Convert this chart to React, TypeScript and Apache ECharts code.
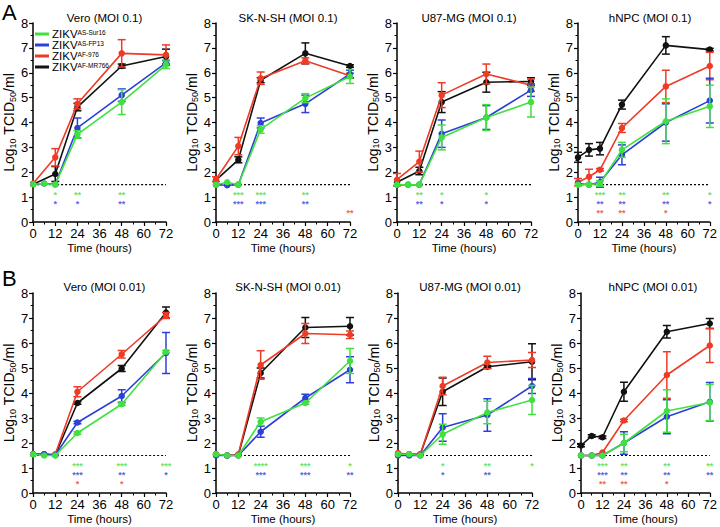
import React, { useEffect, useRef } from 'react';
import * as echarts from 'echarts';

const HOURS = [0, 6, 12, 24, 48, 72];
const STRAINS = ['AS-Sur16', 'AS-FP13', 'AF-976', 'AF-MR766'];
const COLORS = ['#3fe03f', '#2c40d8', '#ee3b25', '#111111'];
const DETECTION_LIMIT = 1.5;
const STAR_TOP = 1.27;

const TITLES = [
  'Vero (MOI 0.1)', 'SK-N-SH (MOI 0.1)', 'U87-MG (MOI 0.1)', 'hNPC (MOI 0.1)',
  'Vero (MOI 0.01)', 'SK-N-SH (MOI 0.01)', 'U87-MG (MOI 0.01)', 'hNPC (MOI 0.01)',
];

// ---- A: MOI 0.1 ----
const veroA_sur16 = [1.52, 1.55, 1.5, 3.52, 4.82, 6.32];
const veroA_sur16_sd = [0, 0, 0, 0.15, 0.5, 0.15];
const veroA_fp13 = [1.52, 1.55, 1.52, 3.78, 5.1, 6.4];
const veroA_fp13_sd = [0, 0, 0, 0.4, 0.25, 0.1];
const veroA_976 = [1.55, null, 2.6, 4.75, 6.78, 6.72];
const veroA_976_sd = [0, 0, 0.35, 0.2, 0.55, 0.4];
const veroA_mr766 = [1.52, null, 1.93, 4.62, 6.27, 6.65];
const veroA_mr766_sd = [0, 0, 0.3, 0.15, 0.08, 0.3];

const sknA_sur16 = [1.5, 1.6, 1.5, 3.72, 4.98, 5.85];
const sknA_sur16_sd = [0, 0, 0, 0.15, 0.18, 0.28];
const sknA_fp13 = [1.5, 1.48, 1.5, 3.98, 4.75, 5.95];
const sknA_fp13_sd = [0, 0, 0, 0.2, 0.35, 0.15];
const sknA_976 = [1.72, null, 3.05, 5.78, 6.48, 5.88];
const sknA_976_sd = [0.1, 0, 0.35, 0.25, 0.12, 0.1];
const sknA_mr766 = [1.68, null, 2.5, 5.7, 6.78, 6.27];
const sknA_mr766_sd = [0, 0, 0.12, 0.1, 0.42, 0.05];

const u87A_sur16 = [1.5, 1.5, 1.5, 3.4, 4.2, 4.82];
const u87A_sur16_sd = [0, 0, 0, 0.5, 0.52, 0.6];
const u87A_fp13 = [1.5, 1.5, 1.5, 3.55, 4.2, 5.3];
const u87A_fp13_sd = [0, 0, 0, 0.55, 0.48, 0.25];
const u87A_976 = [1.7, null, 2.43, 5.1, 5.95, 5.5];
const u87A_976_sd = [0.25, 0, 0.42, 0.5, 0.4, 0.25];
const u87A_mr766 = [1.6, null, 2.05, 4.82, 5.62, 5.65];
const u87A_mr766_sd = [0, 0, 0.15, 0.42, 0.4, 0.15];

const npcA_sur16 = [1.5, 1.5, 1.55, 2.9, 4.05, 4.65];
const npcA_sur16_sd = [0, 0, 0.1, 0.3, 0.9, 0.85];
const npcA_fp13 = [1.55, 1.5, 1.6, 2.7, 4.0, 4.88];
const npcA_fp13_sd = [0, 0, 0.2, 0.4, 0.75, 0.9];
const npcA_976 = [1.6, 1.82, 2.1, 3.78, 5.45, 6.27];
const npcA_976_sd = [0.15, 0.3, 0.05, 0.18, 0.65, 0.55];
const npcA_mr766 = [2.6, 2.9, 2.95, 4.72, 7.1, 6.93];
const npcA_mr766_sd = [0.2, 0.25, 0.25, 0.18, 0.35, 0.05];

// ---- B: MOI 0.01 ----
const veroB_sur16 = [1.55, 1.5, 1.5, 2.4, 3.55, 5.65];
const veroB_sur16_sd = [0, 0, 0, 0.05, 0.05, 0.05];
const veroB_fp13 = [1.55, 1.55, 1.52, 2.82, 3.88, 5.6];
const veroB_fp13_sd = [0, 0, 0, 0.05, 0.25, 0.82];
const veroB_976 = [1.55, 1.55, 1.55, 4.05, 5.55, 7.1];
const veroB_976_sd = [0, 0, 0, 0.2, 0.15, 0.12];
const veroB_mr766 = [1.55, 1.55, 1.52, 3.6, 4.98, 7.22];
const veroB_mr766_sd = [0, 0, 0, 0.05, 0.12, 0.22];

const sknB_sur16 = [1.55, 1.5, 1.5, 2.85, 3.6, 5.28];
const sknB_sur16_sd = [0, 0, 0, 0.15, 0.05, 0.5];
const sknB_fp13 = [1.5, 1.5, 1.5, 2.45, 3.8, 4.93];
const sknB_fp13_sd = [0, 0, 0, 0.22, 0.15, 0.52];
const sknB_976 = [1.55, 1.5, 1.55, 5.12, 6.38, 6.33];
const sknB_976_sd = [0, 0, 0, 0.57, 0.4, 0.15];
const sknB_mr766 = [1.55, 1.5, 1.52, 4.8, 6.62, 6.67];
const sknB_mr766_sd = [0, 0, 0, 0.2, 0.4, 0.35];

const u87B_sur16 = [1.55, 1.55, 1.5, 2.35, 3.22, 3.72];
const u87B_sur16_sd = [0, 0, 0, 0.4, 0.45, 0.58];
const u87B_fp13 = [1.5, 1.5, 1.5, 2.62, 3.12, 4.28];
const u87B_fp13_sd = [0, 0, 0, 0.55, 0.65, 0.3];
const u87B_976 = [1.6, 1.55, 1.55, 4.28, 5.22, 5.32];
const u87B_976_sd = [0, 0, 0, 0.35, 0.25, 0.3];
const u87B_mr766 = [1.55, 1.55, 1.55, 4.05, 5.05, 5.25];
const u87B_mr766_sd = [0, 0, 0, 0.55, 0.05, 0.72];

const npcB_sur16 = [1.5, 1.5, 1.5, 2.0, 3.28, 3.62];
const npcB_sur16_sd = [0, 0, 0, 0.35, 0.85, 0.72];
const npcB_fp13 = [1.5, 1.5, 1.5, 2.0, 3.05, 3.65];
const npcB_fp13_sd = [0, 0, 0, 0.45, 0.68, 0.77];
const npcB_976 = [1.5, 1.5, 1.62, 2.9, 4.72, 5.9];
const npcB_976_sd = [0, 0, 0, 0.05, 0.93, 0.68];
const npcB_mr766 = [1.9, 2.28, 2.23, 4.05, 6.45, 6.78];
const npcB_mr766_sd = [0.05, 0.05, 0.05, 0.38, 0.25, 0.2];

// significance marks: [hour, vs AS-Sur16 (green), vs AS-FP13 (blue), vs AF-976 (red)]
const veroA_stars = [[12, '*', '*', ''], [24, '**', '*', ''], [48, '**', '**', '']];
const sknA_stars = [[12, '***', '***', ''], [24, '***', '***', ''], [48, '**', '**', ''], [72, '', '', '**']];
const u87A_stars = [[12, '**', '**', ''], [24, '*', '*', ''], [48, '*', '*', '']];
const npcA_stars = [[12, '***', '**', '**'], [24, '**', '**', '**'], [48, '**', '**', '*'], [72, '*', '*', '']];
const veroB_stars = [[24, '***', '***', '*'], [48, '***', '**', '*'], [72, '***', '*', '']];
const sknB_stars = [[24, '****', '***', ''], [48, '***', '***', ''], [72, '*', '**', '']];
const u87B_stars = [[24, '*', '*', ''], [48, '**', '**', ''], [72, '*', '', '']];
const npcB_stars = [[12, '***', '***', '**'], [24, '**', '**', '**'], [48, '**', '**', '*'], [72, '**', '**', '']];

const PANELS = [
  { means: [veroA_sur16, veroA_fp13, veroA_976, veroA_mr766], sds: [veroA_sur16_sd, veroA_fp13_sd, veroA_976_sd, veroA_mr766_sd], stars: veroA_stars },
  { means: [sknA_sur16, sknA_fp13, sknA_976, sknA_mr766], sds: [sknA_sur16_sd, sknA_fp13_sd, sknA_976_sd, sknA_mr766_sd], stars: sknA_stars },
  { means: [u87A_sur16, u87A_fp13, u87A_976, u87A_mr766], sds: [u87A_sur16_sd, u87A_fp13_sd, u87A_976_sd, u87A_mr766_sd], stars: u87A_stars },
  { means: [npcA_sur16, npcA_fp13, npcA_976, npcA_mr766], sds: [npcA_sur16_sd, npcA_fp13_sd, npcA_976_sd, npcA_mr766_sd], stars: npcA_stars },
  { means: [veroB_sur16, veroB_fp13, veroB_976, veroB_mr766], sds: [veroB_sur16_sd, veroB_fp13_sd, veroB_976_sd, veroB_mr766_sd], stars: veroB_stars },
  { means: [sknB_sur16, sknB_fp13, sknB_976, sknB_mr766], sds: [sknB_sur16_sd, sknB_fp13_sd, sknB_976_sd, sknB_mr766_sd], stars: sknB_stars },
  { means: [u87B_sur16, u87B_fp13, u87B_976, u87B_mr766], sds: [u87B_sur16_sd, u87B_fp13_sd, u87B_976_sd, u87B_mr766_sd], stars: u87B_stars },
  { means: [npcB_sur16, npcB_fp13, npcB_976, npcB_mr766], sds: [npcB_sur16_sd, npcB_fp13_sd, npcB_976_sd, npcB_mr766_sd], stars: npcB_stars },
];

const GRIDS = [
  { left: 33, top: 23, width: 133, height: 199 },
  { left: 216, top: 23, width: 134, height: 199 },
  { left: 397, top: 23, width: 134, height: 199 },
  { left: 578, top: 23, width: 134, height: 199 },
  { left: 33, top: 293, width: 133, height: 200 },
  { left: 216, top: 293, width: 134, height: 200 },
  { left: 398, top: 293, width: 134, height: 200 },
  { left: 581, top: 293, width: 134, height: 200 },
];

const LEGEND_TOPS = [28, 39, 50, 61];

const FONT = '"Liberation Sans", Arial, Helvetica, sans-serif';

function buildOption() {
  const series: any[] = [];
  const xAxis: any[] = [];
  const yAxis: any[] = [];
  const title: any[] = [];

  GRIDS.forEach((g, i) => {
    xAxis.push({
      type: 'value', gridIndex: i, min: 0, max: 72, interval: 12,
      axisLine: { lineStyle: { color: '#000', width: 1.5 } },
      axisTick: { length: 4, lineStyle: { color: '#000', width: 1.2 } },
      minorTick: { show: true, splitNumber: 2, length: 2.5, lineStyle: { color: '#000', width: 1 } },
      splitLine: { show: false },
      axisLabel: { color: '#000', fontSize: 13, fontFamily: FONT, margin: 5 },
      name: 'Time (hours)', nameLocation: 'middle', nameGap: 20,
      nameTextStyle: { color: '#000', fontSize: 11.5, fontFamily: FONT },
    });
    yAxis.push({
      type: 'value', gridIndex: i, min: 0, max: 8, interval: 1,
      axisLine: { show: true, lineStyle: { color: '#000', width: 1.5 } },
      axisTick: { show: true, length: 4, lineStyle: { color: '#000', width: 1.2 } },
      minorTick: { show: true, splitNumber: 2, length: 2.5, lineStyle: { color: '#000', width: 1 } },
      splitLine: { show: false },
      axisLabel: { color: '#000', fontSize: 13, fontFamily: FONT, margin: 5 },
      name: 'Log{sub|10} TCID{sub|50}/ml', nameLocation: 'middle', nameGap: 14,
      nameTextStyle: {
        color: '#000', fontSize: 14, fontFamily: FONT, lineHeight: 16,
        rich: { sub: { fontSize: 9, lineHeight: 9, verticalAlign: 'bottom', fontFamily: FONT, color: '#000' } },
      },
    });
    title.push({
      text: TITLES[i], left: g.left + g.width / 2, top: i < 4 ? 7 : 276, textAlign: 'center',
      textStyle: { fontSize: 11.5, fontWeight: 'normal', color: '#000', fontFamily: FONT },
    });

    const p = PANELS[i];
    series.push({
      type: 'line', xAxisIndex: i, yAxisIndex: i, name: 'LOD', symbol: 'none', silent: true,
      data: [[0, DETECTION_LIMIT], [72, DETECTION_LIMIT]],
      lineStyle: { color: '#000', width: 1.2, type: [2, 2] }, z: 1,
    });
    for (let s = 3; s >= 0; s--) {
      const color = COLORS[s];
      const pts: any[] = [];
      const errs: any[] = [];
      HOURS.forEach((h, k) => {
        const v = p.means[s][k];
        if (v === null || v === undefined) return;
        pts.push([h, v]);
        const e = p.sds[s][k];
        if (e > 0) errs.push([h, v, e]);
      });
      series.push({
        type: 'custom', xAxisIndex: i, yAxisIndex: i, name: 'err-' + STRAINS[s], silent: true,
        z: 3 + (3 - s) * 2,
        data: errs,
        encode: { x: 0, y: 1 },
        renderItem: (params: any, api: any) => {
          const x = api.value(0), y = api.value(1), e = api.value(2);
          const t = api.coord([x, y + e]);
          const b = api.coord([x, y - e]);
          const w = 4;
          const style = { stroke: color, lineWidth: 1.5, fill: 'none' };
          return {
            type: 'group', children: [
              { type: 'line', shape: { x1: t[0], y1: t[1], x2: b[0], y2: b[1] }, style },
              { type: 'line', shape: { x1: t[0] - w, y1: t[1], x2: t[0] + w, y2: t[1] }, style },
              { type: 'line', shape: { x1: b[0] - w, y1: b[1], x2: b[0] + w, y2: b[1] }, style },
            ],
          };
        },
      });
      series.push({
        type: 'line', xAxisIndex: i, yAxisIndex: i, name: STRAINS[s],
        data: pts, symbol: 'circle', symbolSize: 6.5, z: 4 + (3 - s) * 2,
        itemStyle: { color }, lineStyle: { color, width: 1.6 },
      });
    }
    const starData = p.stars.map((row: any[]) => ({
      value: [row[0], STAR_TOP],
      name: '{g|' + (row[1] || ' ') + '}\n{b|' + (row[2] || ' ') + '}\n{r|' + (row[3] || ' ') + '}',
    }));
    const starRich = (c: string) => ({ color: c, fontSize: 9, lineHeight: 9, fontWeight: 'bold', fontFamily: FONT });
    series.push({
      type: 'scatter', xAxisIndex: i, yAxisIndex: i, name: 'stars', silent: true,
      symbolSize: 0, data: starData, z: 20,
      label: {
        show: true, position: 'inside', verticalAlign: 'top', align: 'center',
        formatter: (q: any) => q.name, lineHeight: 9,
        rich: { g: starRich(COLORS[0]), b: starRich(COLORS[1]), r: starRich(COLORS[2]) },
      },
    });
  });

  const legend = STRAINS.map((name, k) => ({
    data: [name], left: 35, top: LEGEND_TOPS[k], orient: 'vertical', itemGap: 0,
    icon: 'rect', itemWidth: 14, itemHeight: 3, selectedMode: false, padding: 0,
    formatter: (n: string) => '{m|ZIKV}{s|' + n + '}',
    textStyle: {
      color: '#000', fontFamily: FONT, padding: [0, 0, 0, -2],
      rich: {
        m: { fontSize: 11.5, lineHeight: 10, color: '#000', fontFamily: FONT },
        s: { fontSize: 6.5, lineHeight: 5, verticalAlign: 'top', color: '#000', fontFamily: FONT },
      },
    },
  }));

  return {
    animation: false,
    backgroundColor: '#fff',
    grid: GRIDS.map((g) => ({ ...g, containLabel: false })),
    xAxis, yAxis, title, legend,
    graphic: [
      { type: 'text', left: 2, top: 1, style: { text: 'A', fontSize: 22, fontFamily: FONT, fill: '#000' } },
      { type: 'text', left: 2, top: 267, style: { text: 'B', fontSize: 22, fontFamily: FONT, fill: '#000' } },
    ],
    series,
  };
}

export default function App() {
  const ref = useRef<HTMLDivElement>(null);
  useEffect(() => {
    if (!ref.current) return;
    const chart = echarts.init(ref.current, null, { renderer: 'svg' });
    chart.setOption(buildOption() as any);
    return () => chart.dispose();
  }, []);
  return <div ref={ref} style={{ position: 'absolute', left: 0, top: 0, width: 720, height: 527 }} />;
}
